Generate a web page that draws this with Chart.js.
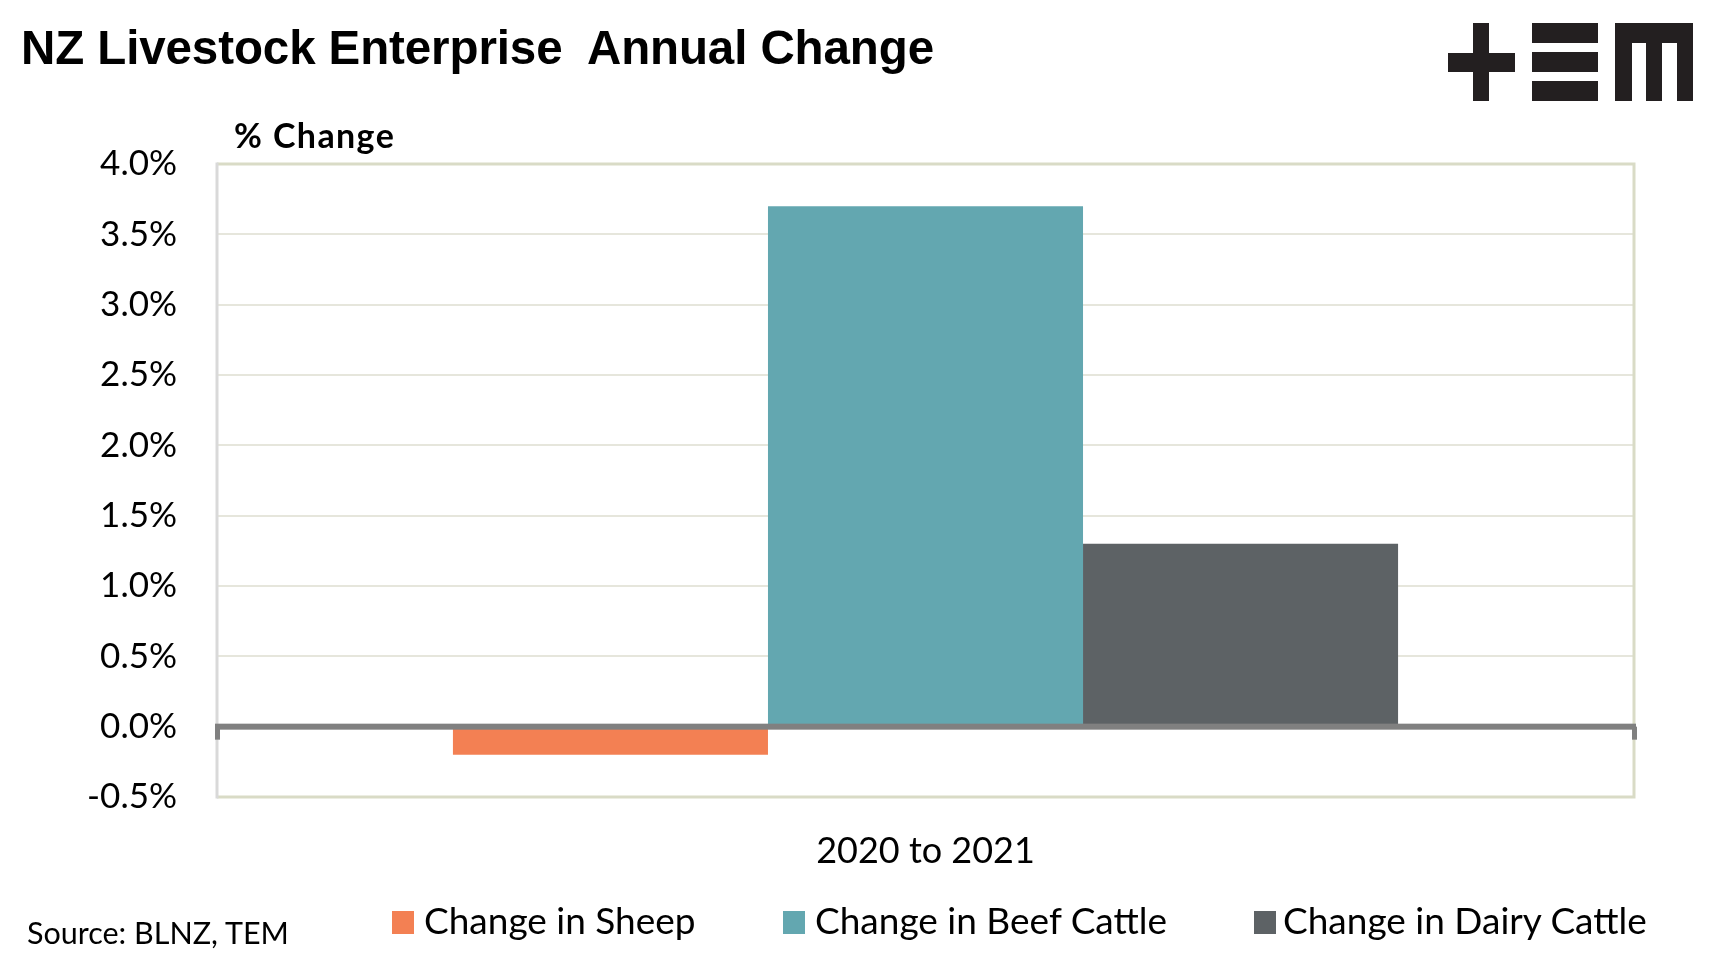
<!DOCTYPE html>
<html>
<head>
<meta charset="utf-8">
<script src="https://cdn.jsdelivr.net/npm/chart.js@4"></script>
<style>
  html, body { margin:0; padding:0; background:#fff; }
  #wrap { position:relative; width:1714px; height:976px; overflow:hidden; background:#fff; }
  #c { position:absolute; left:0; top:0; }
  .txt { position:absolute; white-space:nowrap; color:#000; }
  #title { left:21px; top:24px; font:bold 47.5px/47.5px "Liberation Sans", Arial, sans-serif; letter-spacing:-0.1px; }
  #ytitle { left:234px; top:115px; font:bold 34px/40.8px Lato, sans-serif; letter-spacing:1.4px; }
  #source { left:27px; top:914px; font:30.5px/36.6px Lato, sans-serif; }
  .lg { position:absolute; white-space:nowrap; font:37px/44.4px Lato, sans-serif; color:#000; }
  .sw { position:absolute; width:22px; height:23px; }
  .logo div { position:absolute; background:#231f20; }
</style>
</head>
<body>
<div id="wrap">
  <canvas id="c" width="1714" height="976"></canvas>
  <div id="title" class="txt">NZ Livestock Enterprise&nbsp; Annual Change</div>
  <div id="ytitle" class="txt">% Change</div>
  <div id="source" class="txt">Source: BLNZ, TEM</div>
  <div id="legend"></div>
  <div class="logo">
    <div style="left:1473px;top:23px;width:16px;height:78px"></div>
    <div style="left:1448px;top:53px;width:67px;height:19px"></div>
    <div style="left:1532px;top:23px;width:66px;height:20px"></div>
    <div style="left:1532px;top:52px;width:66px;height:20px"></div>
    <div style="left:1532px;top:81px;width:66px;height:20px"></div>
    <div style="left:1615px;top:23px;width:78px;height:20px"></div>
    <div style="left:1615px;top:23px;width:17px;height:78px"></div>
    <div style="left:1646px;top:23px;width:16px;height:78px"></div>
    <div style="left:1677px;top:23px;width:16px;height:78px"></div>
  </div>
</div>
<script>
// ---- data ----
const categories = ['2020 to 2021'];
const seriesNames = ['Change in Sheep', 'Change in Beef Cattle', 'Change in Dairy Cattle'];
const sheepValues = [-0.2];
const beefValues = [3.7];
const dairyValues = [1.3];
const yTickValues = [-0.5, 0, 0.5, 1, 1.5, 2, 2.5, 3, 3.5, 4];
const yTickLabels = ['-0.5%', '0.0%', '0.5%', '1.0%', '1.5%', '2.0%', '2.5%', '3.0%', '3.5%', '4.0%'];

// ---- styles ----
const seriesColors = ['#f38053', '#63a7b0', '#5d6265'];
const legendPos = [[392, 424], [783, 815], [1254, 1283]];

// legend (HTML)
const lg = document.getElementById('legend');
seriesNames.forEach((n, i) => {
  const sw = document.createElement('div');
  sw.className = 'sw';
  sw.style.left = legendPos[i][0] + 'px';
  sw.style.top = '911px';
  sw.style.background = seriesColors[i];
  lg.appendChild(sw);
  const t = document.createElement('div');
  t.className = 'lg';
  t.style.left = legendPos[i][1] + 'px';
  t.style.top = '898px';
  t.textContent = n;
  lg.appendChild(t);
});

const framePlugin = {
  id: 'frame',
  beforeDatasetsDraw(chart) {
    const { ctx, chartArea: { left, right, top, bottom } } = chart;
    ctx.save();
    ctx.lineWidth = 3;
    ctx.strokeStyle = '#d9dbc6';
    ctx.beginPath();
    ctx.moveTo(left, top); ctx.lineTo(right, top); ctx.lineTo(right, bottom); ctx.lineTo(left, bottom);
    ctx.stroke();
    ctx.strokeStyle = '#d9d9d9';
    ctx.beginPath();
    ctx.moveTo(left, top - 1.5); ctx.lineTo(left, bottom + 1.5);
    ctx.stroke();
    ctx.restore();
  },
  afterDatasetsDraw(chart) {
    const { ctx, chartArea: { left, right } } = chart;
    const y0 = chart.scales.y.getPixelForValue(0);
    ctx.save();
    ctx.fillStyle = '#808080';
    ctx.fillRect(left - 2, y0 - 3, right - left + 4, 6);
    ctx.fillRect(left - 2, y0, 5, 13);
    ctx.fillRect(right - 2, y0, 5, 13);
    ctx.restore();
  }
};

const data = {
  labels: categories,
  datasets: [
    { label: seriesNames[0], data: sheepValues, backgroundColor: seriesColors[0] },
    { label: seriesNames[1], data: beefValues, backgroundColor: seriesColors[1] },
    { label: seriesNames[2], data: dairyValues, backgroundColor: seriesColors[2] }
  ]
};

new Chart(document.getElementById('c'), {
  type: 'bar',
  data,
  plugins: [framePlugin],
  options: {
    responsive: false,
    animation: false,
    devicePixelRatio: 1,
    layout: { padding: { left: 0, right: 80, top: 164, bottom: 0 } },
    plugins: { legend: { display: false }, tooltip: { enabled: false } },
    datasets: { bar: { categoryPercentage: 0.667, barPercentage: 1.0 } },
    scales: {
      x: {
        grid: { display: false, drawTicks: false },
        border: { display: false },
        ticks: { color: '#000', font: { family: 'Lato', size: 36 }, padding: 33 },
        afterFit(s) { s.height = 179; }
      },
      y: {
        min: -0.5, max: 4,
        afterBuildTicks(s) { s.ticks = yTickValues.map(v => ({ value: v })); },
        grid: {
          drawTicks: false,
          color: (c) => (c.tick && c.tick.value === 0) ? 'rgba(0,0,0,0)' : '#e6e6dc',
          lineWidth: 2
        },
        border: { display: false },
        ticks: {
          color: '#000', font: { family: 'Lato', size: 35 }, padding: 40,
          callback: (v, i) => yTickLabels[i]
        },
        afterFit(s) { s.width = 217; }
      }
    }
  }
});
</script>
</body>
</html>
